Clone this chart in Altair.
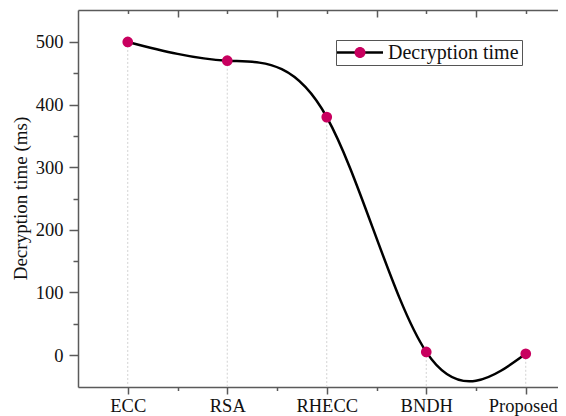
import json
import altair as alt
import pandas as pd

# ---- data ----
categories = ["ECC", "RSA", "RHECC", "BNDH", "Proposed"]
decryption_ms = [500, 470, 380, 5, 2]
series_name = "Decryption time"
y_tick_values = [0, 50, 100, 150, 200, 250, 300, 350, 400, 450, 500]
x_tick_values = [0, 0.5, 1, 1.5, 2, 2.5, 3, 3.5, 4]

df = pd.DataFrame({
    "idx": list(range(len(categories))),
    "method": categories,
    "value": decryption_ms,
    "series": [series_name] * len(categories),
    "marker": [series_name] * len(categories),
})

W, H = 480, 377
X_DOM = [-0.5, 4.324]
Y_DOM = [-51, 551]
FONT = "Liberation Serif"
AXIS_COLOR = "#5a5a5a"
TEXT_COLOR = "#111111"
MAGENTA = "#C8005F"

x_scale = alt.Scale(domain=X_DOM, nice=False, zero=False)
y_scale = alt.Scale(domain=Y_DOM, nice=False, zero=False)

label_expr = "datum.value % 1 === 0 ? " + json.dumps(categories) + "[datum.value] : ''"

common_axis = dict(
    domainColor=AXIS_COLOR, domainWidth=1.5, tickColor=AXIS_COLOR, tickWidth=1.5,
    grid=False, labelFont=FONT, labelColor=TEXT_COLOR, titleFont=FONT,
    titleColor=TEXT_COLOR,
)

bottom_axis = alt.Axis(
    orient="bottom", values=x_tick_values, labelExpr=label_expr,
    tickSize={"condition": {"test": "datum.value % 1 === 0", "value": 7}, "value": 3.5},
    labelOffset={"condition": {"test": "datum.value === 4", "value": -3}, "value": 0},
    labelFontSize=18.5, labelPadding=2, title=None, labelFlush=False,
    labelOverlap=False, **common_axis,
)

top_axis = alt.Axis(
    orient="bottom", offset=-H, values=x_tick_values, labels=False,
    tickSize={"condition": {"test": "datum.value % 1 === 0", "value": 3.5}, "value": 7},
    title=None, **common_axis,
)

left_axis = alt.Axis(
    orient="left", values=y_tick_values,
    labelExpr="datum.value % 100 === 0 ? datum.label : ''",
    tickSize={"condition": {"test": "datum.value % 100 === 0", "value": 9}, "value": 5},
    labelFontSize=18.5, labelPadding=6, title="Decryption time (ms)",
    titleFontSize=19, titleFontWeight="normal", titleX=-48, titleY=188,
    **common_axis,
)

legend_common = dict(
    title=None, orient="none", legendX=258, legendY=30, symbolSize=256,
    symbolOffset=11.5, labelOffset=18, padding=2.5,
    labelFont=FONT, labelFontSize=20, labelColor=TEXT_COLOR,
)

base = alt.Chart(df)

drops = base.mark_rule(color="#d2d2d2", strokeWidth=1, strokeDash=[2, 2]).encode(
    x=alt.X("idx:Q", scale=x_scale, axis=bottom_axis),
    y=alt.Y("value:Q", scale=y_scale, axis=left_axis),
    y2=alt.datum(Y_DOM[0]),
)

line = base.mark_line(interpolate="natural", strokeWidth=2.5).encode(
    x=alt.X("idx:Q", scale=x_scale, axis=top_axis),
    y=alt.Y("value:Q", scale=y_scale, axis=None),
    stroke=alt.Stroke(
        "series:N", scale=alt.Scale(range=["black"]),
        legend=alt.Legend(
            symbolType="M-2.875,0L2.875,0", symbolStrokeWidth=2.5,
            strokeColor="#555555", **legend_common,
        ),
    ),
)

dots = base.mark_circle(size=115, opacity=1, strokeWidth=0).encode(
    x=alt.X("idx:Q", scale=x_scale, axis=None),
    y=alt.Y("value:Q", scale=y_scale, axis=None),
    fill=alt.Fill(
        "marker:N", scale=alt.Scale(range=[MAGENTA]),
        legend=alt.Legend(
            symbolType="M0,-0.6875A0.6875,0.6875 0 1,1 0,0.6875A0.6875,0.6875 0 1,1 0,-0.6875Z",
            symbolStrokeWidth=0, symbolOpacity=1, labelExpr="''",
            **legend_common,
        ),
    ),
)

chart = (
    alt.layer(drops, line, dots)
    .resolve_axis(x="independent", y="independent")
    .properties(
        width=W, height=H,
        autosize=alt.AutoSizeParams(type="none"),
        padding={"left": 70, "top": 2, "right": 0, "bottom": 29},
        background="white",
    )
    .configure_view(stroke=None)
)

chart.save("out.html", embed_options={"renderer": "svg", "actions": False})
